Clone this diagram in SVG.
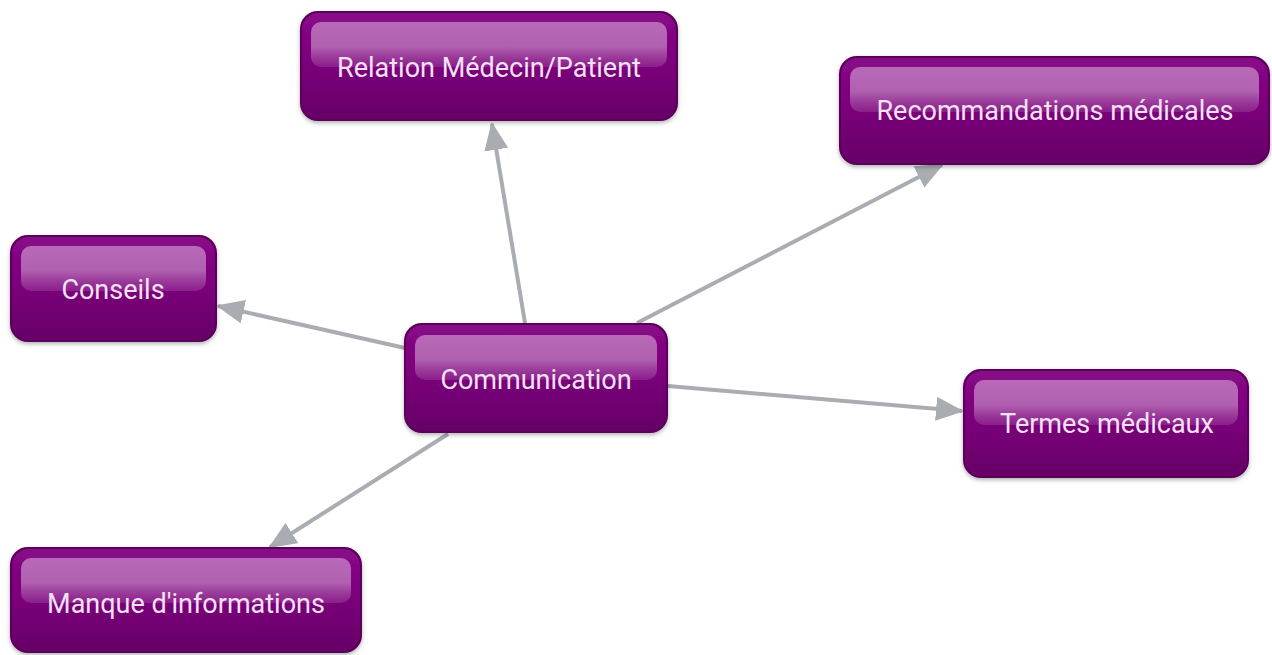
<svg xmlns="http://www.w3.org/2000/svg" width="1272" height="655" viewBox="0 0 1272 655">
<defs>
<linearGradient id="body" x1="0" y1="0" x2="0" y2="1">
<stop offset="0" stop-color="#880888"/>
<stop offset="0.5" stop-color="#7a027a"/>
<stop offset="1" stop-color="#660066"/>
</linearGradient>
<linearGradient id="hl" x1="0" y1="0" x2="0" y2="1">
<stop offset="0" stop-color="#b86ab8"/>
<stop offset="0.55" stop-color="#b060b0"/>
<stop offset="1" stop-color="#9a3e9a" stop-opacity="0.5"/>
</linearGradient>
<filter id="sh" x="-10%" y="-10%" width="120%" height="130%">
<feDropShadow dx="0" dy="2" stdDeviation="2" flood-color="#000" flood-opacity="0.3"/>
</filter>
<marker id="arr" markerWidth="7" markerHeight="6" refX="6.5" refY="3" orient="auto" markerUnits="strokeWidth">
<path d="M0,0 L7,3 L0,6 Z" fill="#a9acb1"/>
</marker>
</defs>
<style>
.box{fill:url(#body);stroke:#5a005a;stroke-width:2;filter:url(#sh)}
.hl{fill:url(#hl)}
.t{font-family:Roboto,"Liberation Sans",sans-serif;font-size:27px;fill:#f4e2f4;text-anchor:middle}
.c{stroke:#a9acb1;stroke-width:4;fill:none;marker-end:url(#arr)}
</style>
<g id="connectors">
<line class="c" x1="525" y1="323" x2="492" y2="124"/>
<line class="c" x1="637" y1="323" x2="942" y2="165"/>
<line class="c" x1="405" y1="348" x2="218" y2="306"/>
<line class="c" x1="668" y1="386" x2="962" y2="411"/>
<line class="c" x1="448" y1="434" x2="270" y2="547"/>
</g>
<g id="n-relation">
<rect class="box" x="301" y="12" width="376" height="108" rx="17"/>
<rect class="hl" x="311" y="22" width="356" height="45" rx="10"/>
<text class="t" x="489" y="77">Relation Médecin/Patient</text>
</g>
<g id="n-recommandations">
<rect class="box" x="840" y="57" width="429" height="107" rx="17"/>
<rect class="hl" x="850" y="67" width="409" height="45" rx="10"/>
<text class="t" x="1055" y="120">Recommandations médicales</text>
</g>
<g id="n-conseils">
<rect class="box" x="11" y="236" width="205" height="105" rx="17"/>
<rect class="hl" x="21" y="246" width="185" height="45" rx="10"/>
<text class="t" x="113" y="299">Conseils</text>
</g>
<g id="n-communication">
<rect class="box" x="405" y="324" width="262" height="108" rx="17"/>
<rect class="hl" x="415" y="335" width="242" height="45" rx="10"/>
<text class="t" x="536" y="389">Communication</text>
</g>
<g id="n-termes">
<rect class="box" x="964" y="370" width="284" height="107" rx="17"/>
<rect class="hl" x="974" y="380" width="264" height="45" rx="10"/>
<text class="t" x="1107" y="433">Termes médicaux</text>
</g>
<g id="n-manque">
<rect class="box" x="11" y="548" width="350" height="104" rx="17"/>
<rect class="hl" x="21" y="558" width="330" height="45" rx="10"/>
<text class="t" x="186" y="613">Manque d'informations</text>
</g>
</svg>
